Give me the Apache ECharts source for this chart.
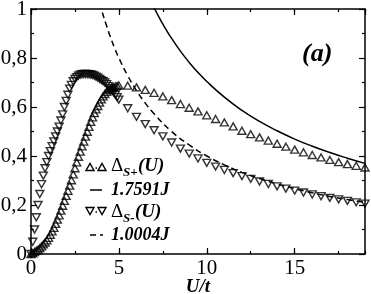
<!DOCTYPE html>
<html>
<head>
<meta charset="utf-8">
<script src="https://cdn.jsdelivr.net/npm/echarts@6/dist/echarts.min.js"></script>
<style>html,body{margin:0;padding:0;background:#fff;}#c{width:371px;height:294px;}</style>
</head>
<body>
<div id="c"></div>
<script>
// U/t values of the computed points
const U = [0,0.1,0.2,0.3,0.4,0.5,0.6,0.7,0.8,0.9,1.0,1.1,1.2,1.3,1.4,1.5,1.6,1.7,1.8,1.9,2.0,2.1,2.2,2.3,2.4,2.5,2.6,2.7,2.8,2.9,3.0,3.1,3.2,3.3,3.4,3.5,3.6,3.7,3.8,3.9,4.0,4.1,4.2,4.3,4.4,4.5,4.6,4.7,4.8,4.9,5.0,
  5.5,6,6.5,7,7.5,8,8.5,9,9.5,10,10.5,11,11.5,12,12.5,13,13.5,14,14.5,15,15.5,16,16.5,17,17.5,18,18.5,19];
// Delta_S+(U)  (up triangles)
const deltaPlus = [0,0.003,0.008,0.013,0.018,0.024,0.031,0.039,0.047,0.056,0.066,0.078,0.092,0.107,0.123,0.14,0.158,0.177,0.197,0.217,0.237,0.258,0.279,0.301,0.325,0.35,0.374,0.397,0.418,0.439,0.459,0.479,0.499,0.519,0.539,0.558,0.575,0.59,0.604,0.618,0.631,0.643,0.653,0.662,0.669,0.674,0.678,0.681,0.684,0.686,0.688,
  0.687,0.68,0.67,0.658,0.643,0.628,0.612,0.597,0.582,0.566,0.551,0.537,0.521,0.503,0.489,0.476,0.463,0.45,0.438,0.426,0.415,0.404,0.394,0.384,0.375,0.367,0.36,0.353];
// Delta_S-(U)  (down triangles)
const deltaMinus = [0,0.05,0.10,0.15,0.20,0.245,0.285,0.32,0.35,0.375,0.40,0.42,0.44,0.46,0.48,0.50,0.52,0.545,0.57,0.60,0.625,0.65,0.675,0.69,0.705,0.715,0.722,0.728,0.732,0.734,0.735,0.735,0.735,0.734,0.733,0.731,0.728,0.724,0.72,0.715,0.71,0.705,0.70,0.693,0.685,0.677,0.668,0.659,0.65,0.64,0.63,
  0.595,0.56,0.53,0.505,0.48,0.455,0.43,0.41,0.39,0.372,0.357,0.343,0.33,0.318,0.307,0.296,0.286,0.276,0.267,0.259,0.251,0.243,0.236,0.229,0.223,0.217,0.211,0.206];
// 1.7591J curve (solid)
const solidU = [7.0,7.25,7.5,7.75,8,8.5,9,9.5,10,11,12,13,14,15,16,17,18,19];
const solidV = [1.005,0.971,0.938,0.908,0.880,0.828,0.782,0.741,0.704,0.640,0.586,0.541,0.503,0.469,0.440,0.414,0.391,0.370];
// 1.0004J curve (dashed)
const dashU = [3.9,4.0,4.25,4.5,4.75,5,5.5,6,6.5,7,8,9,10,11,12,13,14,15,16,17,18,19];
const dashV = [1.026,1.000,0.942,0.889,0.842,0.800,0.728,0.667,0.616,0.572,0.500,0.445,0.400,0.364,0.333,0.308,0.286,0.267,0.250,0.235,0.222,0.211];

const xTicksMajor = 5, xTicksMinor = 2.5, xMax = 19;
const yTicksMajor = 0.2;
const legendLabels = ['1.7591J', '1.0004J'];

const FF = '"Liberation Serif", "Times New Roman", serif';
const pair = (xs, ys) => xs.map((x, i) => [x, ys[i]]);

const chart = echarts.init(document.getElementById('c'), null, {renderer: 'canvas'});

function xAx(pos, interval, len, labels, line) {
  return {
    type: 'value', min: 0, max: xMax, interval: interval, position: pos,
    axisLine: {show: line, onZero: false, lineStyle: {color: '#000', width: 1.5}},
    axisTick: {show: true, inside: true, length: len, lineStyle: {color: '#000', width: 1.2}},
    axisLabel: {show: labels, color: '#000', fontFamily: FF, fontSize: 21, margin: 4, showMaxLabel: false},
    splitLine: {show: false}
  };
}
function yAx(pos, labels) {
  return {
    type: 'value', min: 0, max: 1, interval: yTicksMajor, position: pos,
    axisLine: {show: true, onZero: false, lineStyle: {color: '#000', width: 1.5}},
    axisTick: {show: true, inside: true, length: 6, lineStyle: {color: '#000', width: 1.2}},
    minorTick: {show: true, splitNumber: 2, length: 3, lineStyle: {color: '#000', width: 1.2}},
    axisLabel: {show: labels, color: '#000', fontFamily: FF, fontSize: 21, margin: 4,
      formatter: v => String(+v.toFixed(1)).replace('.', ',')},
    splitLine: {show: false}
  };
}

const xMain = xAx('bottom', xTicksMajor, 6, true, true);
xMain.name = 'U/t';
xMain.nameLocation = 'middle';
xMain.nameGap = 24;
xMain.nameMoveOverlap = false;
xMain.nameTextStyle = {fontFamily: FF, fontWeight: 'bold', fontStyle: 'italic', fontSize: 19, color: '#000', verticalAlign: 'top'};

const tri = (cx, cy, down) => down
  ? [[cx - 4, cy - 3.5], [cx + 4, cy - 3.5], [cx, cy + 3.5]]
  : [[cx - 4, cy + 3.5], [cx + 4, cy + 3.5], [cx, cy - 3.5]];
const symStyle = {fill: 'none', stroke: '#000', lineWidth: 1.4};
const txt = (x, y, text, size, bold, italic) => ({
  type: 'text', x: x, y: y, silent: true,
  style: {text: text, fill: '#000', fontFamily: FF, fontSize: size,
    fontWeight: bold ? 'bold' : 'normal', fontStyle: italic ? 'italic' : 'normal',
    verticalAlign: 'middle', align: 'left'}
});

const r1 = 166, r2 = 190, r3 = 212, r4 = 235;

chart.setOption({
  animation: false,
  backgroundColor: '#fff',
  grid: {left: 31, right: 6, top: 9, bottom: 40, containLabel: false, outerBoundsMode: 'none'},
  xAxis: [xMain, xAx('bottom', xTicksMinor, 3, false, false), xAx('top', xTicksMajor, 6, false, true), xAx('top', xTicksMinor, 3, false, false)],
  yAxis: [yAx('left', true), yAx('right', false)],
  series: [
    {type: 'line', xAxisIndex: 0, yAxisIndex: 0, data: pair(solidU, solidV), smooth: true, showSymbol: false,
      lineStyle: {color: '#000', width: 1.5}, clip: true},
    {type: 'line', xAxisIndex: 0, yAxisIndex: 0, data: pair(dashU, dashV), smooth: true, showSymbol: false,
      lineStyle: {color: '#000', width: 1.5, type: [6, 4]}, clip: true},
    {type: 'scatter', name: 'plus', xAxisIndex: 0, yAxisIndex: 0, data: pair(U, deltaPlus), symbol: 'triangle', symbolSize: [8, 7],
      itemStyle: {color: 'rgba(0,0,0,0)', borderColor: '#000', borderWidth: 1.4}, clip: false},
    {type: 'scatter', name: 'minus', xAxisIndex: 0, yAxisIndex: 0, data: pair(U, deltaMinus), symbol: 'triangle', symbolRotate: 180, symbolSize: [8, 7],
      itemStyle: {color: 'rgba(0,0,0,0)', borderColor: '#000', borderWidth: 1.4}, clip: false}
  ],
  graphic: [
    // legend row 1
    {type: 'polygon', shape: {points: tri(90, r1 + 1, false)}, style: symStyle},
    {type: 'line', shape: {x1: 95.5, y1: r1 + 2, x2: 97, y2: r1 + 2}, style: {stroke: '#000', lineWidth: 1.3}},
    {type: 'polygon', shape: {points: tri(102, r1 + 1, false)}, style: symStyle},
    txt(111, r1, 'Δ', 19, false, false),
    txt(123, r1 + 7, 'S+', 13, true, true),
    txt(138, r1, '(U)', 19, true, true),
    // legend row 2
    {type: 'line', shape: {x1: 90, y1: r2, x2: 102, y2: r2}, style: {stroke: '#000', lineWidth: 1.5}},
    txt(111, r2, legendLabels[0], 18, true, true),
    // legend row 3
    {type: 'polygon', shape: {points: tri(90, r3 - 1, true)}, style: symStyle},
    {type: 'line', shape: {x1: 95.5, y1: r3, x2: 97, y2: r3}, style: {stroke: '#000', lineWidth: 1.3}},
    {type: 'polygon', shape: {points: tri(102, r3 - 1, true)}, style: symStyle},
    txt(111, r3, 'Δ', 19, false, false),
    txt(123, r3 + 7, 'S-', 13, true, true),
    txt(135, r3, '(U)', 19, true, true),
    // legend row 4
    {type: 'line', shape: {x1: 90, y1: r4, x2: 103, y2: r4}, style: {stroke: '#000', lineWidth: 1.5, lineDash: [6, 4]}},
    txt(111, r4, legendLabels[1], 18, true, true),
    // panel label
    txt(302, 54, '(a)', 26, true, true)
  ]
});
</script>
</body>
</html>
